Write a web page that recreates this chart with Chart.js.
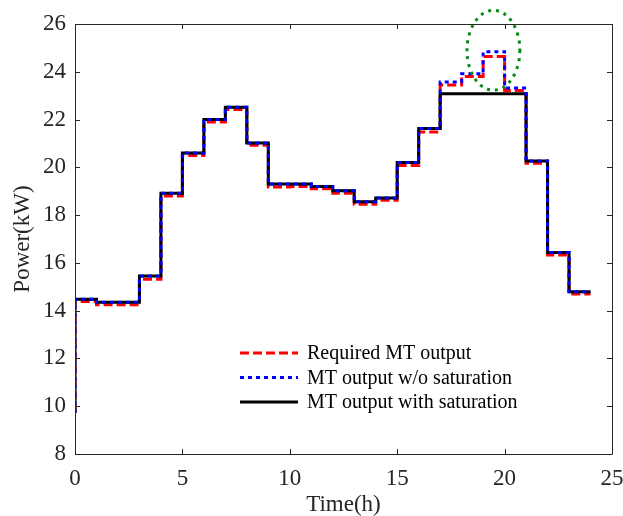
<!DOCTYPE html>
<html>
<head>
<meta charset="utf-8">
<script src="https://cdn.jsdelivr.net/npm/chart.js@4/dist/chart.umd.min.js"></script>
<style>
  html, body { margin: 0; padding: 0; background: #fff; }
  #wrap { width: 623px; height: 516px; }
</style>
</head>
<body>
<div id="wrap"><canvas id="mtChart"></canvas></div>
<script>
// hourly step boundaries (h)
const hours = [0,1,2,3,4,5,6,7,8,9,10,11,12,13,14,15,16,17,18,19,20,21,22,23,24];

// value at t=0 before the first step
const startValue = 9.72;

// power over each hour interval (kW)
const requiredMT = [14.38,14.25,14.25,15.32,18.80,20.50,21.90,22.42,20.92,19.18,19.20,19.10,
                    18.92,18.45,18.62,20.08,21.48,23.45,23.80,24.64,23.22,20.17,16.33,14.70];
const mtNoSat    = [14.48,14.35,14.35,15.45,18.92,20.60,22.00,22.52,21.02,19.30,19.30,19.20,
                    19.02,18.56,18.72,20.20,21.63,23.57,23.92,24.84,23.32,20.27,16.43,14.79];
const mtSat      = [14.48,14.35,14.35,15.45,18.92,20.60,22.00,22.52,21.02,19.30,19.30,19.20,
                    19.02,18.56,18.72,20.20,21.63,23.08,23.08,23.08,23.08,20.27,16.43,14.79];

const seriesNames = ['Required MT output', 'MT output w/o saturation', 'MT output with saturation'];

// marked region around the unsaturated peak (h, kW)
const markCenter = [19.48, 24.9];
const markRadius = [1.23, 1.67];

const axisColor = '#262626';
const serif = 'Liberation Serif, Times New Roman, serif';

// each value holds from its hour until the next boundary
function stepPoints(vals) {
  const pts = [{ x: hours[0], y: startValue }, { x: hours[0], y: vals[0] }];
  for (let i = 1; i < hours.length; i++) {
    pts.push({ x: hours[i], y: vals[Math.min(i, vals.length - 1)] });
  }
  return pts;
}

// box frame with inward ticks on all four sides
const framePlugin = {
  id: 'frame',
  afterDraw(chart) {
    const { ctx, chartArea: a, scales: { x, y } } = chart;
    ctx.save();
    ctx.strokeStyle = axisColor;
    ctx.lineWidth = 1;
    ctx.beginPath();
    ctx.rect(Math.round(a.left) + 0.5, Math.round(a.top) + 0.5,
             Math.round(a.right - a.left), Math.round(a.bottom - a.top));
    const tl = 5;
    x.ticks.forEach(t => {
      const px = Math.round(x.getPixelForValue(t.value)) + 0.5;
      ctx.moveTo(px, a.bottom); ctx.lineTo(px, a.bottom - tl);
      ctx.moveTo(px, a.top); ctx.lineTo(px, a.top + tl);
    });
    y.ticks.forEach(t => {
      const py = Math.round(y.getPixelForValue(t.value)) + 0.5;
      ctx.moveTo(a.left, py); ctx.lineTo(a.left + tl, py);
      ctx.moveTo(a.right, py); ctx.lineTo(a.right - tl, py);
    });
    ctx.stroke();
    ctx.restore();
  }
};

// dotted green ellipse around the peak
const markPlugin = {
  id: 'peakMark',
  afterDatasetsDraw(chart) {
    const { ctx, scales: { x, y } } = chart;
    const cx = x.getPixelForValue(markCenter[0]);
    const cy = y.getPixelForValue(markCenter[1]);
    const rx = x.getPixelForValue(markCenter[0] + markRadius[0]) - cx;
    const ry = cy - y.getPixelForValue(markCenter[1] + markRadius[1]);
    ctx.save();
    ctx.strokeStyle = '#0a8a14';
    ctx.lineWidth = 3;
    ctx.setLineDash([3, 5]);
    ctx.beginPath();
    ctx.ellipse(cx, cy, rx, ry, 0, 0, Math.PI * 2);
    ctx.stroke();
    ctx.restore();
  }
};

// legend inside the axes, lower middle
const legendPlugin = {
  id: 'innerLegend',
  afterDraw(chart) {
    const { ctx } = chart;
    const rows = [353, 377.5, 402];
    ctx.save();
    ctx.font = '20px ' + serif;
    ctx.textBaseline = 'middle';
    ctx.fillStyle = '#000';
    chart.data.datasets.forEach((ds, i) => {
      const yy = rows[i];
      ctx.strokeStyle = ds.borderColor;
      ctx.lineWidth = ds.borderWidth;
      ctx.setLineDash(ds.borderDash || []);
      ctx.beginPath();
      ctx.moveTo(240, yy);
      ctx.lineTo(298, yy);
      ctx.stroke();
      ctx.setLineDash([]);
      ctx.fillText(ds.label, 307, yy + 1);
    });
    ctx.restore();
  }
};

const ctx = document.getElementById('mtChart').getContext('2d');
new Chart(ctx, {
  type: 'line',
  data: {
    datasets: [
      {
        label: seriesNames[0], data: stepPoints(requiredMT),
        borderColor: '#ff0000', borderWidth: 3, borderDash: [9, 4],
        stepped: 'before', pointRadius: 0, order: 3
      },
      {
        label: seriesNames[1], data: stepPoints(mtNoSat),
        borderColor: '#0000ff', borderWidth: 3, borderDash: [4, 4],
        stepped: 'before', pointRadius: 0, order: 1
      },
      {
        label: seriesNames[2], data: stepPoints(mtSat),
        borderColor: '#000000', borderWidth: 3,
        stepped: 'before', pointRadius: 0, order: 2
      }
    ]
  },
  options: {
    responsive: true,
    maintainAspectRatio: false,
    devicePixelRatio: 1,
    animation: false,
    layout: { padding: { top: 24, right: 11, left: 0, bottom: 0 } },
    plugins: { legend: { display: false }, tooltip: { enabled: false } },
    scales: {
      x: {
        type: 'linear', min: 0, max: 25,
        grid: { display: false, drawTicks: false },
        border: { display: false },
        ticks: { stepSize: 5, padding: 11, color: axisColor, font: { family: serif, size: 23 } },
        title: { display: true, text: 'Time(h)', color: axisColor,
                 font: { family: serif, size: 23, lineHeight: 1 }, padding: 0 },
        afterFit(s) { s.height = 62; s.paddingLeft = 0; s.paddingRight = 0; }
      },
      y: {
        min: 8, max: 26,
        grid: { display: false, drawTicks: false },
        border: { display: false },
        ticks: { stepSize: 2, padding: 9, color: axisColor, font: { family: serif, size: 23 } },
        title: { display: true, text: 'Power(kW)', color: axisColor,
                 font: { family: serif, size: 23, lineHeight: 1 }, padding: { top: 11, bottom: 0 } },
        afterFit(s) { s.width = 75; s.paddingTop = 0; s.paddingBottom = 0; }
      }
    }
  },
  plugins: [framePlugin, markPlugin, legendPlugin]
});
</script>
</body>
</html>
